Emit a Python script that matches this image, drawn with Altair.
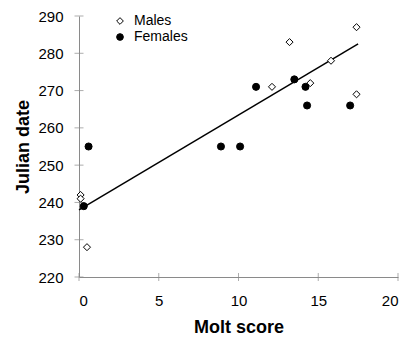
import altair as alt
import pandas as pd

male_x = [0.1, 0.1, 0.5, 12.1, 13.2, 14.5, 15.8, 17.4, 17.4]
male_y = [242, 241, 228, 271, 283, 272, 278, 287, 269]
female_x = [0.3, 0.6, 8.9, 10.1, 11.1, 13.5, 14.2, 14.3, 17.0]
female_y = [239, 255, 255, 255, 271, 273, 271, 266, 266]
fit_x = [0, 17.5]
fit_y = [238, 282.5]
x_ticks = [0, 5, 10, 15, 20]
y_ticks = [220, 230, 240, 250, 260, 270, 280, 290]

FONT = "Liberation Sans"
GREY = "#8a8a8a"

pts = pd.DataFrame({
    "x": male_x + female_x,
    "y": male_y + female_y,
    "sex": ["Males"] * len(male_x) + ["Females"] * len(female_x),
})
fit = pd.DataFrame({"x": fit_x, "y": fit_y})
xt = pd.DataFrame({"x": x_ticks, "y": [220] * len(x_ticks)})
yt = pd.DataFrame({"y": y_ticks, "x": [0] * len(y_ticks)})

xs = alt.Scale(domain=[0, 20], nice=False, zero=False)
ys = alt.Scale(domain=[220, 290], nice=False, zero=False)

xaxis = alt.Axis(values=x_ticks, ticks=False, grid=False, domainColor=GREY, labelOverlap=False,
                 labelFontSize=15, labelFont=FONT, labelColor="black", labelPadding=16,
                 title="Molt score", titleFontSize=18, titleFont=FONT, titleFontWeight="bold",
                 titlePadding=10)
yaxis = alt.Axis(values=y_ticks, ticks=False, grid=False, domainColor=GREY, labelOverlap=False,
                 labelFontSize=15, labelFont=FONT, labelColor="black", labelPadding=16,
                 title="Julian date", titleFontSize=18, titleFont=FONT, titleFontWeight="bold",
                 titlePadding=5)

X = alt.X("x:Q", scale=xs, axis=xaxis)
Y = alt.Y("y:Q", scale=ys, axis=yaxis)

leg = alt.Legend(title=None, orient="none", legendX=34, legendY=-2,
                 labelFontSize=14, labelFont=FONT, symbolSize=45,
                 rowPadding=2, labelOffset=7, padding=0,
                 symbolStrokeColor="black", symbolStrokeWidth=1)

dom = ["Males", "Females"]
points = alt.Chart(pts).mark_point(filled=True, strokeWidth=1, opacity=1).encode(
    x=X, y=Y,
    shape=alt.Shape("sex:N", scale=alt.Scale(domain=dom, range=["diamond", "circle"]), legend=leg),
    fill=alt.Fill("sex:N", scale=alt.Scale(domain=dom, range=["white", "black"]), legend=leg),
    stroke=alt.Stroke("sex:N", scale=alt.Scale(domain=dom, range=["black", "black"]), legend=leg),
    size=alt.value(50),
)

line = alt.Chart(fit).mark_line(color="black", strokeWidth=1.5).encode(x=X, y=Y)

xtick = alt.Chart(xt).mark_tick(orient="vertical", size=8, thickness=1, color=GREY).encode(x=X, y=Y)
ytick = alt.Chart(yt).mark_tick(orient="horizontal", size=9, thickness=1, color=GREY).encode(x=X, y=Y)

chart = alt.layer(xtick, ytick, line, points).properties(
    width=319, height=261,
    autosize=alt.AutoSizeParams(type="none"),
    padding={"left": 71, "top": 8, "right": 4, "bottom": 60},
).configure_view(stroke=None).configure_axis(domainWidth=1)

chart.save("out.html", embed_options={"renderer": "svg", "actions": False})
